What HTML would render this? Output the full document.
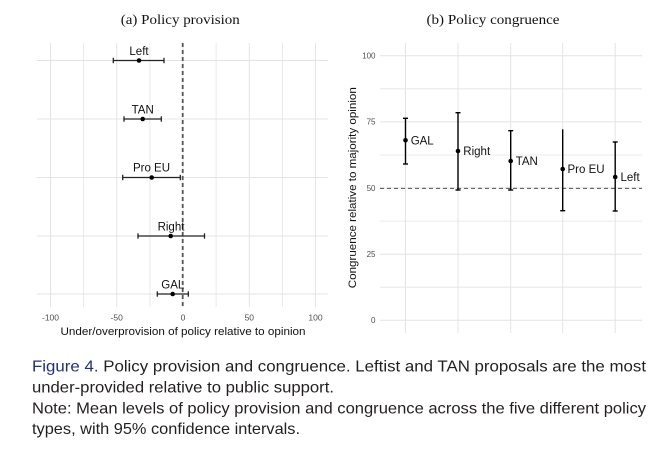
<!DOCTYPE html>
<html><head><meta charset="utf-8"><style>
html,body{margin:0;padding:0;background:#fff;}
svg{display:block;}
</style></head><body>
<svg width="665" height="452" viewBox="0 0 665 452" xmlns="http://www.w3.org/2000/svg">
<rect width="665" height="452" fill="#fff"/>
<!-- Titles -->
<text x="180.3" y="24" font-family="Liberation Serif, serif" font-size="13.5" text-anchor="middle" textLength="119" lengthAdjust="spacingAndGlyphs" fill="#111">(a) Policy provision</text>
<text x="493" y="24" font-family="Liberation Serif, serif" font-size="13.5" text-anchor="middle" textLength="133" lengthAdjust="spacingAndGlyphs" fill="#111">(b) Policy congruence</text>

<!-- LEFT PANEL grid -->
<g stroke="#e4e4e4" stroke-width="1">
<line x1="50.5" y1="43" x2="50.5" y2="307"/>
<line x1="83.6" y1="43" x2="83.6" y2="307" stroke-width="0.8"/>
<line x1="116.7" y1="43" x2="116.7" y2="307"/>
<line x1="149.9" y1="43" x2="149.9" y2="307" stroke-width="0.8"/>
<line x1="183" y1="43" x2="183" y2="307"/>
<line x1="216.1" y1="43" x2="216.1" y2="307" stroke-width="0.8"/>
<line x1="249.3" y1="43" x2="249.3" y2="307"/>
<line x1="282.4" y1="43" x2="282.4" y2="307" stroke-width="0.8"/>
<line x1="315.5" y1="43" x2="315.5" y2="307"/>
<line x1="37" y1="60.5" x2="328" y2="60.5"/>
<line x1="37" y1="119" x2="328" y2="119"/>
<line x1="37" y1="177.5" x2="328" y2="177.5"/>
<line x1="37" y1="236" x2="328" y2="236"/>
<line x1="37" y1="294" x2="328" y2="294"/>
</g>
<line x1="182.7" y1="43" x2="182.7" y2="307" stroke="#555" stroke-width="1.8" stroke-dasharray="4 3"/>
<!-- left error bars -->
<g stroke="#222" stroke-width="1.3" fill="none">
<line x1="113.3" y1="60.5" x2="164" y2="60.5"/><line x1="113.3" y1="57.8" x2="113.3" y2="63.2"/><line x1="164" y1="57.8" x2="164" y2="63.2"/>
<line x1="124" y1="119" x2="161.3" y2="119"/><line x1="124" y1="116.3" x2="124" y2="121.7"/><line x1="161.3" y1="116.3" x2="161.3" y2="121.7"/>
<line x1="122.7" y1="177.5" x2="180.3" y2="177.5"/><line x1="122.7" y1="174.8" x2="122.7" y2="180.2"/><line x1="180.3" y1="174.8" x2="180.3" y2="180.2"/>
<line x1="138" y1="236" x2="204.5" y2="236"/><line x1="138" y1="233.3" x2="138" y2="238.7"/><line x1="204.5" y1="233.3" x2="204.5" y2="238.7"/>
<line x1="157.3" y1="294" x2="188.3" y2="294"/><line x1="157.3" y1="291.3" x2="157.3" y2="296.7"/><line x1="188.3" y1="291.3" x2="188.3" y2="296.7"/>
</g>
<g fill="#000">
<circle cx="139" cy="60.5" r="2.3"/>
<circle cx="142.7" cy="119" r="2.3"/>
<circle cx="151.7" cy="177.5" r="2.3"/>
<circle cx="170.7" cy="236" r="2.3"/>
<circle cx="172.7" cy="294" r="2.3"/>
</g>
<g font-family="Liberation Sans, sans-serif" font-size="11.5" text-anchor="middle" fill="#111">
<text x="139" y="55">Left</text>
<text x="142.7" y="113.5">TAN</text>
<text x="151.5" y="171.5">Pro EU</text>
<text x="171" y="230.5">Right</text>
<text x="172.8" y="288.5">GAL</text>
</g>
<g font-family="Liberation Sans, sans-serif" font-size="8.5" text-anchor="middle" fill="#4d4d4d">
<text x="50.5" y="320.5">-100</text>
<text x="116.7" y="320.5">-50</text>
<text x="183" y="320.5">0</text>
<text x="249.3" y="320.5">50</text>
<text x="315.5" y="320.5">100</text>
</g>
<text x="183" y="335" font-family="Liberation Sans, sans-serif" font-size="11" text-anchor="middle" textLength="245" lengthAdjust="spacingAndGlyphs" fill="#111">Under/overprovision of policy relative to opinion</text>

<!-- RIGHT PANEL grid -->
<g stroke="#e4e4e4" stroke-width="1">
<line x1="380" y1="320.3" x2="642" y2="320.3"/>
<line x1="380" y1="287.2" x2="642" y2="287.2" stroke-width="0.8"/>
<line x1="380" y1="254.2" x2="642" y2="254.2"/>
<line x1="380" y1="221.1" x2="642" y2="221.1" stroke-width="0.8"/>
<line x1="380" y1="188" x2="642" y2="188"/>
<line x1="380" y1="155" x2="642" y2="155" stroke-width="0.8"/>
<line x1="380" y1="121.9" x2="642" y2="121.9"/>
<line x1="380" y1="88.8" x2="642" y2="88.8" stroke-width="0.8"/>
<line x1="380" y1="55.7" x2="642" y2="55.7"/>
<line x1="405.5" y1="43" x2="405.5" y2="333"/>
<line x1="458" y1="43" x2="458" y2="333"/>
<line x1="510.7" y1="43" x2="510.7" y2="333"/>
<line x1="562.7" y1="43" x2="562.7" y2="333"/>
<line x1="615.2" y1="43" x2="615.2" y2="333"/>
</g>
<line x1="380" y1="188.3" x2="642" y2="188.3" stroke="#333" stroke-width="0.8" stroke-dasharray="4 3"/>
<g stroke="#000" stroke-width="1.4" fill="none">
<line x1="405.5" y1="118.3" x2="405.5" y2="164"/><line x1="403" y1="118.3" x2="408" y2="118.3"/><line x1="403" y1="164" x2="408" y2="164"/>
<line x1="458" y1="112.7" x2="458" y2="190"/><line x1="455.5" y1="112.7" x2="460.5" y2="112.7"/><line x1="455.5" y1="190" x2="460.5" y2="190"/>
<line x1="510.7" y1="130.7" x2="510.7" y2="190"/><line x1="508.2" y1="130.7" x2="513.2" y2="130.7"/><line x1="508.2" y1="190" x2="513.2" y2="190"/>
<line x1="562.7" y1="129.3" x2="562.7" y2="210.7"/><line x1="560.2" y1="210.7" x2="565.2" y2="210.7"/>
<line x1="615.2" y1="142" x2="615.2" y2="211"/><line x1="612.7" y1="142" x2="617.7" y2="142"/><line x1="612.7" y1="211" x2="617.7" y2="211"/>
</g>
<g fill="#000">
<circle cx="405.5" cy="140.3" r="2.3"/>
<circle cx="458" cy="151" r="2.3"/>
<circle cx="510.7" cy="161" r="2.3"/>
<circle cx="562.7" cy="169" r="2.3"/>
<circle cx="615.2" cy="177" r="2.3"/>
</g>
<g font-family="Liberation Sans, sans-serif" font-size="11.5" fill="#111">
<text x="410.7" y="144.5">GAL</text>
<text x="463.3" y="155.2">Right</text>
<text x="515.7" y="165.2">TAN</text>
<text x="567.5" y="173.2">Pro EU</text>
<text x="620.5" y="181.2">Left</text>
</g>
<g font-family="Liberation Sans, sans-serif" font-size="8" text-anchor="end" fill="#4d4d4d">
<text x="375.5" y="58.5">100</text>
<text x="375.5" y="124.7">75</text>
<text x="375.5" y="190.8">50</text>
<text x="375.5" y="257">25</text>
<text x="375.5" y="323.1">0</text>
</g>
<text transform="translate(356,187.7) rotate(-90)" x="0" y="0" font-family="Liberation Sans, sans-serif" font-size="11" text-anchor="middle" textLength="201" lengthAdjust="spacingAndGlyphs" fill="#111">Congruence relative to majority opinion</text>

<!-- Caption -->
<g font-family="Liberation Sans, sans-serif" font-size="16" fill="#231f20">
<text x="32" y="371.7" textLength="614" lengthAdjust="spacingAndGlyphs"><tspan fill="#22307a">Figure 4.</tspan> Policy provision and congruence. Leftist and TAN proposals are the most</text>
<text x="32" y="392.5" textLength="302" lengthAdjust="spacingAndGlyphs">under-provided relative to public support.</text>
<text x="32" y="413.3" textLength="614" lengthAdjust="spacingAndGlyphs">Note: Mean levels of policy provision and congruence across the five different policy</text>
<text x="32" y="434" textLength="268" lengthAdjust="spacingAndGlyphs">types, with 95% confidence intervals.</text>
</g>
</svg>
</body></html>
